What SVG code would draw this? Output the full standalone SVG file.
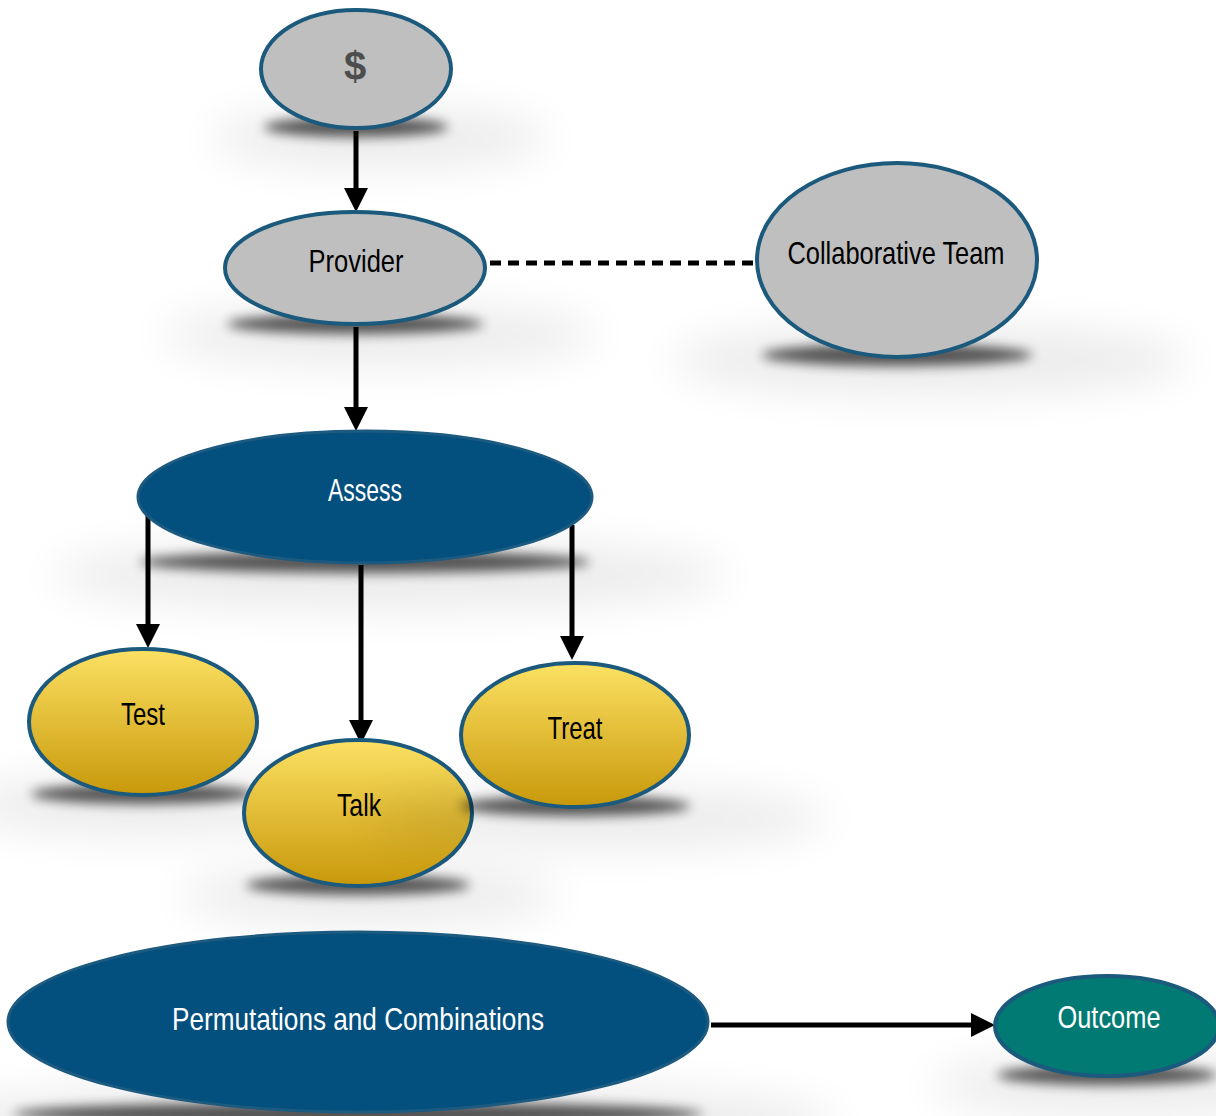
<svg xmlns="http://www.w3.org/2000/svg" width="1216" height="1116" viewBox="0 0 1216 1116">
  <style>
    .lbl { font-family: "Liberation Sans", Arial, sans-serif; font-size: 32px; text-anchor: middle; }
    .dark { fill: #000; }
    .light { fill: #fff; }
    .grey { fill: #bfbfbf; stroke: #1b5a7d; stroke-width: 4; }
    .gold { fill: url(#goldFill); stroke: #1b5a7d; stroke-width: 4; }
    .navy { fill: #034f7e; stroke: #1d5a80; stroke-width: 3; }
    .teal { fill: #017a73; stroke: #1b5a7d; stroke-width: 4; }
    .core { fill: #000; opacity: 0.65; filter: url(#soft); }
    .haze { fill: #000; opacity: 0.08; filter: url(#wide); }
    .link { stroke: #000; stroke-width: 5; fill: none; }
    .arrow { marker-end: url(#head); }
  </style>
  <defs>
    <linearGradient id="goldFill" x1="0" y1="0" x2="0" y2="1">
      <stop offset="0" stop-color="#fce163"/>
      <stop offset="1" stop-color="#c8980a"/>
    </linearGradient>
    <filter id="soft" x="-30%" y="-200%" width="160%" height="500%">
      <feGaussianBlur stdDeviation="6"/>
    </filter>
    <filter id="wide" x="-50%" y="-200%" width="200%" height="500%">
      <feGaussianBlur stdDeviation="22"/>
    </filter>
    <marker id="head" viewBox="0 0 24 24" refX="2" refY="12" markerWidth="24" markerHeight="24" markerUnits="userSpaceOnUse" orient="auto">
      <path d="M0,0 L24,12 L0,24 z" fill="#000"/>
    </marker>
  </defs>

  <rect width="1216" height="1116" fill="#fff"/>

  <!-- connectors -->
  <g id="connectors">
    <line class="link arrow" x1="356" y1="131" x2="356" y2="190"/>
    <line class="link arrow" x1="356" y1="327" x2="356" y2="409"/>
    <line class="link" x1="490" y1="263" x2="757" y2="263" stroke-width="4" stroke-dasharray="11 7"/>
    <line class="link arrow" x1="148" y1="513" x2="148" y2="626"/>
    <line class="link arrow" x1="361" y1="565" x2="361" y2="722"/>
    <line class="link arrow" x1="572" y1="525" x2="572" y2="638"/>
    <line class="link arrow" x1="711" y1="1025" x2="973" y2="1025"/>
  </g>

  <!-- funding -->
  <g id="node-dollar">
    <ellipse class="haze" cx="380" cy="138" rx="170" ry="30"/>
    <ellipse class="core" cx="356" cy="127" rx="92" ry="10"/>
    <ellipse class="grey" cx="356" cy="69" rx="95" ry="59"/>
    <text x="355" y="80" text-anchor="middle" font-family="Liberation Sans, Arial, sans-serif" font-size="40" font-weight="bold" fill="#4d4d4d">$</text>
  </g>

  <g id="node-provider">
    <ellipse class="haze" cx="380" cy="335" rx="220" ry="30"/>
    <ellipse class="core" cx="355" cy="324" rx="128" ry="10"/>
    <ellipse class="grey" cx="355" cy="268" rx="130" ry="56"/>
    <text class="lbl dark" x="356" y="272" textLength="95" lengthAdjust="spacingAndGlyphs">Provider</text>
  </g>

  <g id="node-team">
    <ellipse class="haze" cx="930" cy="360" rx="260" ry="35"/>
    <ellipse class="core" cx="897" cy="355" rx="135" ry="11"/>
    <ellipse class="grey" cx="897" cy="260" rx="140" ry="97"/>
    <text class="lbl dark" x="896" y="264" textLength="217" lengthAdjust="spacingAndGlyphs">Collaborative Team</text>
  </g>

  <g id="node-assess">
    <ellipse class="haze" cx="390" cy="575" rx="340" ry="35"/>
    <ellipse class="core" cx="365" cy="562" rx="225" ry="11"/>
    <ellipse class="navy" cx="365" cy="497" rx="227" ry="66"/>
    <text class="lbl light" x="365" y="501" textLength="74" lengthAdjust="spacingAndGlyphs">Assess</text>
  </g>

  <g id="node-test">
    <ellipse class="haze" cx="150" cy="805" rx="190" ry="30"/>
    <ellipse class="core" cx="143" cy="794" rx="112" ry="10"/>
    <ellipse class="gold" cx="143" cy="722" rx="114" ry="73"/>
    <text class="lbl dark" x="143" y="725" textLength="44" lengthAdjust="spacingAndGlyphs">Test</text>
  </g>

  <g id="node-talk">
    <ellipse class="haze" cx="370" cy="895" rx="190" ry="30"/>
    <ellipse class="core" cx="358" cy="885" rx="112" ry="10"/>
    <ellipse class="gold" cx="358" cy="813" rx="114" ry="73"/>
    <text class="lbl dark" x="359" y="816" textLength="44" lengthAdjust="spacingAndGlyphs">Talk</text>
  </g>

  <g id="node-treat">
    <ellipse class="haze" cx="600" cy="818" rx="230" ry="30"/>
    <ellipse class="core" cx="575" cy="806" rx="115" ry="10"/>
    <ellipse class="gold" cx="575" cy="735" rx="114" ry="72"/>
    <text class="lbl dark" x="575" y="739" textLength="55" lengthAdjust="spacingAndGlyphs">Treat</text>
  </g>

  <g id="node-permutations">
    <ellipse class="haze" cx="380" cy="1122" rx="460" ry="40"/>
    <ellipse class="core" cx="358" cy="1114" rx="345" ry="12"/>
    <ellipse class="navy" cx="358" cy="1022" rx="350" ry="90"/>
    <text class="lbl light" x="358" y="1030" textLength="372" lengthAdjust="spacingAndGlyphs">Permutations and Combinations</text>
  </g>

  <g id="node-outcome">
    <ellipse class="haze" cx="1130" cy="1085" rx="200" ry="30"/>
    <ellipse class="core" cx="1107" cy="1075" rx="110" ry="10"/>
    <ellipse class="teal" cx="1107" cy="1026" rx="112" ry="50"/>
    <text class="lbl light" x="1109" y="1028" textLength="103" lengthAdjust="spacingAndGlyphs">Outcome</text>
  </g>
</svg>
